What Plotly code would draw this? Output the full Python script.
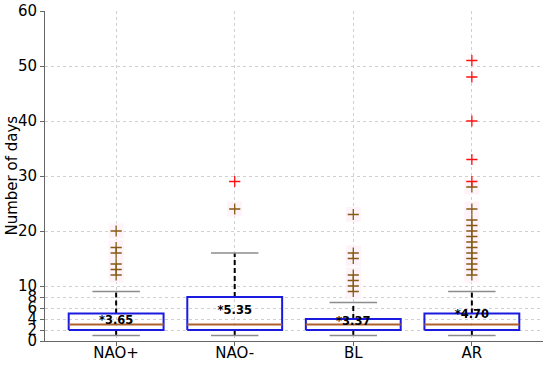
import plotly.graph_objects as go

categories = ["NAO+", "NAO-", "BL", "AR"]
q1 = [2, 2, 2, 2]
medians = [3, 3, 3, 3]
q3 = [5, 8, 4, 5]
whisker_low = [1, 1, 1, 1]
whisker_high = [9, 16, 7, 9]
means = [3.65, 5.35, 3.37, 4.70]
outliers_brown = [
    [12, 13, 14, 16, 17, 20],
    [24],
    [9, 10, 11, 12, 15, 16, 23],
    [12, 13, 14, 15, 16, 17, 18, 19, 20, 21, 22, 24, 28],
]
outliers_red = [
    [],
    [29],
    [],
    [29, 33, 40, 48, 51],
]
y_ticks = [0, 2, 4, 6, 8, 10, 20, 30, 40, 50, 60]

BOX_HALF = 0.4
CAP_HALF = 0.2

fig = go.Figure()

# faint pink background behind outliers
px_, py_ = [], []
for i, b in enumerate(outliers_brown):
    for v in b:
        px_.append(i); py_.append(v)
fig.add_trace(go.Scatter(x=px_, y=py_, mode="markers",
                         marker=dict(symbol="square", size=15, color="#fef3f9", line=dict(width=0)),
                         hoverinfo="skip", showlegend=False))

# whiskers (dashed)
wx, wy = [], []
for i in range(len(categories)):
    wx += [i, i, None, i, i, None]
    wy += [q1[i], whisker_low[i], None, q3[i], whisker_high[i], None]
fig.add_trace(go.Scatter(x=wx, y=wy, mode="lines",
                         line=dict(color="black", width=2, dash="5px,3px"),
                         hoverinfo="skip", showlegend=False))

# caps
cx, cy = [], []
for i in range(len(categories)):
    cx += [i - CAP_HALF, i + CAP_HALF, None, i - CAP_HALF, i + CAP_HALF, None]
    cy += [whisker_low[i], whisker_low[i], None, whisker_high[i], whisker_high[i], None]
fig.add_trace(go.Scatter(x=cx, y=cy, mode="lines",
                         line=dict(color="#8c8c8c", width=1.6),
                         hoverinfo="skip", showlegend=False))

# boxes
bx, by = [], []
for i in range(len(categories)):
    bx += [i - BOX_HALF, i + BOX_HALF, i + BOX_HALF, i - BOX_HALF, i - BOX_HALF, None]
    by += [q1[i], q1[i], q3[i], q3[i], q1[i], None]
fig.add_trace(go.Scatter(x=bx, y=by, mode="lines",
                         line=dict(color="#1a1ae0", width=2),
                         hoverinfo="skip", showlegend=False))

# medians
mx, my = [], []
for i in range(len(categories)):
    mx += [i - BOX_HALF, i + BOX_HALF, None]
    my += [medians[i], medians[i], None]
fig.add_trace(go.Scatter(x=mx, y=my, mode="lines",
                         line=dict(color="#b0602a", width=2),
                         hoverinfo="skip", showlegend=False))

# outliers
ox, oy = [], []
for i, b in enumerate(outliers_brown):
    for v in b:
        ox.append(i); oy.append(v)
fig.add_trace(go.Scatter(x=ox, y=oy, mode="markers",
                         marker=dict(symbol="cross-thin", size=8, line=dict(color="#855a14", width=1.3)),
                         showlegend=False))
rx, ry = [], []
for i, r in enumerate(outliers_red):
    for v in r:
        rx.append(i); ry.append(v)
fig.add_trace(go.Scatter(x=rx, y=ry, mode="markers",
                         marker=dict(symbol="cross-thin", size=8, line=dict(color="#ff1010", width=1.3)),
                         showlegend=False))

# mean labels
fig.add_trace(go.Scatter(x=list(range(len(categories))), y=means, mode="text",
                         text=["<b>*%.2f</b>" % m for m in means],
                         textposition="middle center",
                         textfont=dict(family="DejaVu Sans", size=11.5, color="black"),
                         hoverinfo="skip", showlegend=False))

fig.update_layout(
    width=550, height=365,
    margin=dict(l=45, r=7, t=11, b=24),
    plot_bgcolor="white", paper_bgcolor="white",
    font=dict(family="DejaVu Sans", size=15, color="black"),
    showlegend=False,
    annotations=[dict(text="Number of days", xref="paper", yref="paper",
                      x=0, y=0.5, xanchor="center", yanchor="middle",
                      xshift=-33.5, textangle=-90, showarrow=False,
                      font=dict(size=15, color="black"))],
)
fig.update_xaxes(
    range=[-0.6, 3.6], automargin=False,
    tickvals=list(range(len(categories))), ticktext=categories,
    showgrid=True, gridcolor="#d0d0d0", griddash="dot", gridwidth=1,
    showline=True, linecolor="#666666", linewidth=1,
    ticks="outside", ticklen=4, tickcolor="#666666",
    ticklabelstandoff=-6,
    zeroline=False,
    tickfont=dict(size=15),
)
fig.update_yaxes(
    range=[0, 60], automargin=False,
    tickvals=y_ticks, ticktext=[str(t) for t in y_ticks],
    ticklabeloverflow="allow",
    showgrid=True, gridcolor="#d0d0d0", griddash="dot", gridwidth=1,
    showline=True, linecolor="#666666", linewidth=1,
    ticks="outside", ticklen=4, tickcolor="#666666",
    zeroline=False,
    tickfont=dict(size=15),
)

# remove the browser's default 8px body margin so the figure sits at the window origin
fig.write_html("out.html", config={"displayModeBar": False},
               post_script="document.body.style.margin='0px';")
